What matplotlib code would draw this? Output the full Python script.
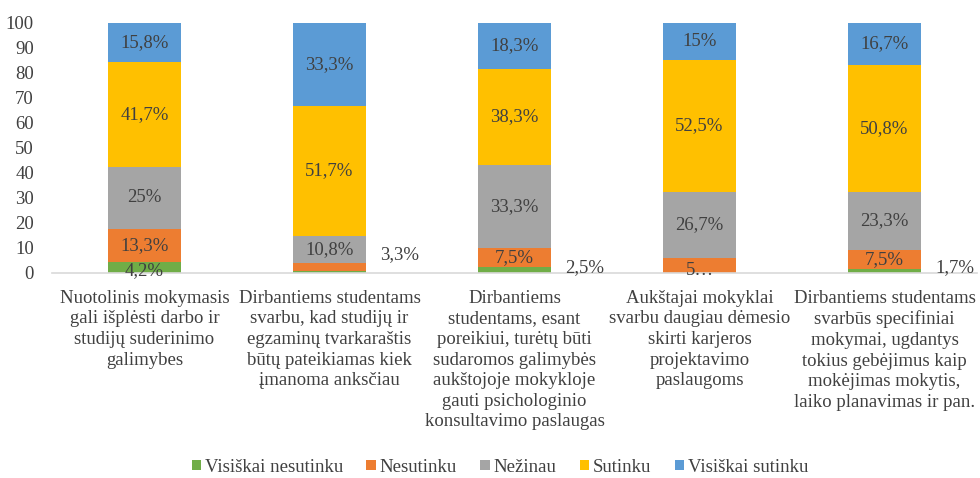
import matplotlib
matplotlib.use("Agg")
import matplotlib.pyplot as plt
import numpy as np

categories = [
    "Nuotolinis mokymasis\ngali išplėsti darbo ir\nstudijų suderinimo\ngalimybes",
    "Dirbantiems studentams\nsvarbu, kad studijų ir\negzaminų tvarkaraštis\nbūtų pateikiamas kiek\nįmanoma anksčiau",
    "Dirbantiems\nstudentams, esant\nporeikiui, turėtų būti\nsudaromos galimybės\naukštojoje mokykloje\ngauti psichologinio\nkonsultavimo paslaugas",
    "Aukštajai mokyklai\nsvarbu daugiau dėmesio\nskirti karjeros\nprojektavimo\npaslaugoms",
    "Dirbantiems studentams\nsvarbūs specifiniai\nmokymai, ugdantys\ntokius gebėjimus kaip\nmokėjimas mokytis,\nlaiko planavimas ir pan.",
]
series_names = ["Visiškai nesutinku", "Nesutinku", "Nežinau", "Sutinku", "Visiškai sutinku"]
visiskai_nesutinku = [4.2, 0.8, 2.5, 0.0, 1.7]
nesutinku = [13.3, 3.3, 7.5, 5.8, 7.5]
nezinau = [25.0, 10.8, 33.3, 26.7, 23.3]
sutinku = [41.7, 51.7, 38.3, 52.5, 50.8]
visiskai_sutinku = [15.8, 33.3, 18.3, 15.0, 16.7]

# label texts per series (None = no label); outside labels handled separately
labels_green = ["4,2%", None, None, None, None]
labels_orange = ["13,3%", None, "7,5%", "5…", "7,5%"]
labels_gray = ["25%", "10,8%", "33,3%", "26,7%", "23,3%"]
labels_yellow = ["41,7%", "51,7%", "38,3%", "52,5%", "50,8%"]
labels_blue = ["15,8%", "33,3%", "18,3%", "15%", "16,7%"]
outside_labels = [(1, "3,3%", 7.2), (2, "2,5%", 2.0), (4, "1,7%", 2.0)]

colors = ["#70AD47", "#ED7D31", "#A5A5A5", "#FFC000", "#5B9BD5"]
text_color = "#404040"
font = "Liberation Serif"
fs = 13.5

plt.rcParams["font.family"] = [font, "DejaVu Serif"]

fig = plt.figure(figsize=(9.8, 4.78), dpi=100)
ax = fig.add_axes([0.053, 0.429, 0.944, 0.523])

x = np.arange(len(categories))
width = 0.39
data = [visiskai_nesutinku, nesutinku, nezinau, sutinku, visiskai_sutinku]
labels = [labels_green, labels_orange, labels_gray, labels_yellow, labels_blue]
bottom = np.zeros(len(categories))
for vals, name, col, labs in zip(data, series_names, colors, labels):
    vals = np.array(vals)
    ax.bar(x, vals, width, bottom=bottom, color=col, label=name, linewidth=0)
    for i, (v, lab) in enumerate(zip(vals, labs)):
        if lab:
            yc = bottom[i] + v / 2
            if lab == "4,2%":
                yc = bottom[i] + v / 2 - 1.2
            if lab == "5…":
                yc = bottom[i] + v / 2 - 2.0
            ax.text(x[i], yc, lab, ha="center", va="center", fontsize=fs,
                    color=text_color)
    bottom += vals

for i, lab, yv in outside_labels:
    ax.text(x[i] + 0.38, yv, lab, ha="center", va="center", fontsize=fs,
            color=text_color)

ax.set_xlim(-0.5, len(categories) - 0.5)
ax.set_ylim(0, 100)
ax.set_yticks(np.arange(0, 101, 10))
ax.set_xticks(x)
ax.set_xticklabels(categories, fontsize=fs, color=text_color, linespacing=1.28)
ax.tick_params(axis="y", length=0, labelsize=fs, labelcolor=text_color, pad=13)
ax.tick_params(axis="x", length=0, pad=12)
for s in ["top", "right", "left"]:
    ax.spines[s].set_visible(False)
ax.spines["bottom"].set_color("#D9D9D9")
ax.spines["bottom"].set_linewidth(1.2)

leg = fig.legend(loc="center", bbox_to_anchor=(0.51, 1 - 467 / 478), ncol=5,
                 frameon=False, fontsize=fs, handlelength=0.5, handleheight=0.5,
                 handletextpad=0.2, columnspacing=1.25, borderpad=0)
for t in leg.get_texts():
    t.set_color(text_color)

fig.savefig("out.png", dpi=100)
